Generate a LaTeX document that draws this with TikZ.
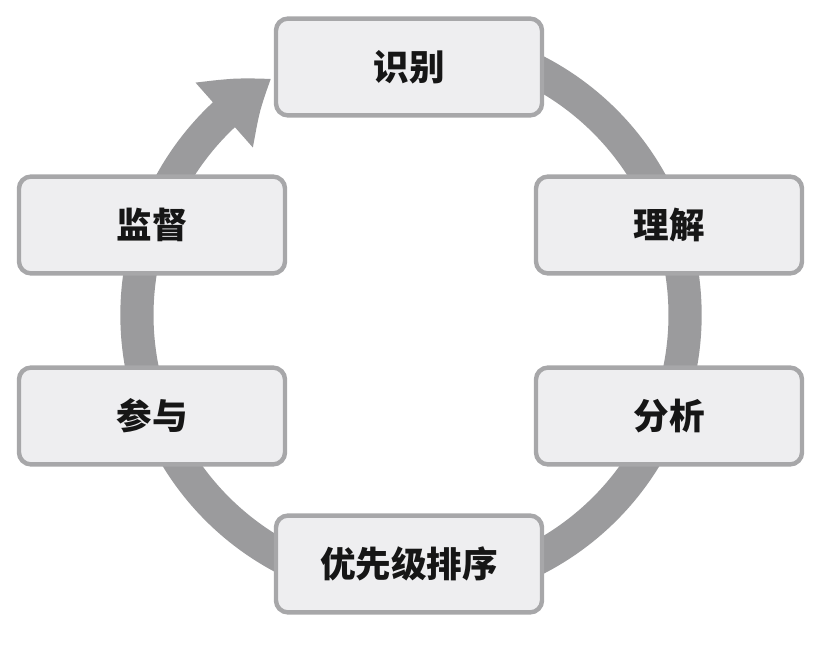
\documentclass[tikz,border=0pt]{standalone}
\usepackage{fontspec}
\newfontfamily\cjk{Noto Sans CJK SC}
\usetikzlibrary{arrows.meta,bending}
\definecolor{ringgray}{HTML}{9B9B9D}
\definecolor{boxline}{HTML}{A7A7A9}
\definecolor{boxfill}{HTML}{EEEEF0}
\definecolor{inktext}{HTML}{161616}
\tikzset{
  stage/.style={draw=boxline, line width=0.11cm, fill=boxfill, rounded corners=0.3cm,
    minimum width=6.65cm, minimum height=2.42cm, inner sep=0pt,
    font=\cjk\bfseries\fontsize{25.3}{30}\selectfont, text=inktext},
  ring/.style={draw=ringgray, line width=0.83cm,
    -{Triangle[width=2.05cm, length=1.5cm, bend]}}
}
\begin{document}
\begin{tikzpicture}[x=0.025cm, y=0.025cm]
  \useasboundingbox (0,0) rectangle (820,652);
  \coordinate (hub) at (411,337);

  % Cycle ring, ends in the arrow pointing at the first stage
  \draw[ring] ([shift={(90:6.85cm)}]hub) arc[start angle=90, end angle=-239.4, radius=6.85cm];

  % Stages, clockwise from the top
  \node[stage] (identify)   at (409,585) {识别};
  \node[stage] (understand) at (669,427) {理解};
  \node[stage] (analyse)    at (669,236) {分析};
  \node[stage] (prioritise) at (409,88)  {优先级排序};
  \node[stage] (engage)     at (152,236) {参与};
  \node[stage] (monitor)    at (152,427) {监督};
\end{tikzpicture}
\end{document}
